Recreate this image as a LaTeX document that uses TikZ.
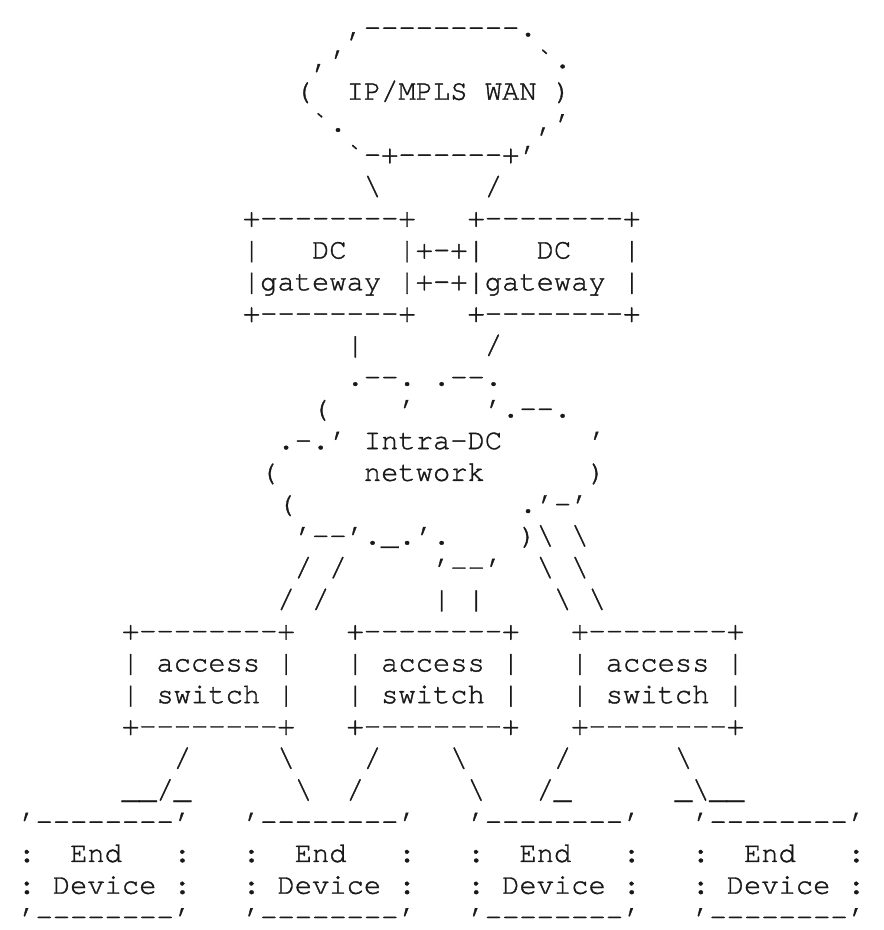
\documentclass[tikz,border=0pt]{standalone}
\usepackage{fontspec}
\setmonofont{TeX Gyre Cursor}[FakeBold=1.2]
\usepackage{tikz}
\usetikzlibrary{positioning}
% one row of the figure: name, row, column, text
\newcommand{\arow}[4]{\node[asc] (#1) at ({17.9+17.28*#3},{36.2+31.76*(#2-1)}) {#4};}
\newcommand{\bs}{\textbackslash}

\begin{document}
\begin{tikzpicture}[x=0.5pt,y=-0.5pt,
    asc/.style={font=\ttfamily\fontsize{14.4}{17}\selectfont, anchor=base west, inner sep=0pt, text=black!90}]
  \fill[white] (0,0) rectangle (883,930);
  \useasboundingbox (0,0) rectangle (883,930);
  % WAN cloud
  \arow{wantop}{1}{19}{,---------.}
  \arow{wanup}{2}{17}{,’~~~~~~~~~~~`.}
  \arow{wan}{3}{16}{(~~IP/MPLS~WAN~)}
  \arow{wanlow}{4}{17}{`.~~~~~~~~~~~,’}
  \arow{wanbase}{5}{19}{`-+------+’}
  \arow{wanlinks}{6}{20}{\bs~~~~~~/}
  % DC gateways
  \arow{gwtop}{7}{13}{+--------+~~~+--------+}
  \arow{gwdc}{8}{13}{|~~~DC~~~|+-+|~~~DC~~~|}
  \arow{gwname}{9}{13}{|gateway~|+-+|gateway~|}
  \arow{gwbot}{10}{13}{+--------+~~~+--------+}
  \arow{gwlinks}{11}{19}{|~~~~~~~/}
  % Intra-DC cloud
  \arow{dctop}{12}{19}{.--.~.--.}
  \arow{dcup}{13}{17}{(~~~~’~~~~’.--.}
  \arow{dc}{14}{15}{.-.’~Intra-DC~~~~~’}
  \arow{dcnet}{15}{14}{(~~~~~network~~~~~~)}
  \arow{dclow}{16}{15}{(~~~~~~~~~~~~~.’-’}
  \arow{dcbase}{17}{16}{’--’.\_.’.~~~~)\bs~\bs}
  \arow{dclinks}{18}{16}{/~/~~~~~’--’~~\bs~\bs}
  \arow{dcpipes}{19}{15}{/~/~~~~~~|~|~~~~\bs~\bs}
  % access switches
  \arow{swtop}{20}{6}{+--------+~~~+--------+~~~+--------+}
  \arow{swacc}{21}{6}{|~access~|~~~|~access~|~~~|~access~|}
  \arow{swname}{22}{6}{|~switch~|~~~|~switch~|~~~|~switch~|}
  \arow{swbot}{23}{6}{+--------+~~~+--------+~~~+--------+}
  \arow{swlinks}{24}{9}{/~~~~~\bs~~~~/~~~~\bs~~~~~/~~~~~~\bs}
  \arow{edlinks}{25}{6}{\_\_/\_~~~~~~\bs~~/~~~~~~\bs~~~/\_~~~~~~\_\bs\_\_}
  % end devices
  \arow{edtop}{26}{0}{’--------’~~~’--------’~~~’--------’~~~’--------’}
  \arow{edend}{27}{0}{:~~End~~~:~~~:~~End~~~:~~~:~~End~~~:~~~:~~End~~~:}
  \arow{eddev}{28}{0}{:~Device~:~~~:~Device~:~~~:~Device~:~~~:~Device~:}
  \arow{edbot}{29}{0}{’--------’~~~’--------’~~~’--------’~~~’--------’}
\end{tikzpicture}
\end{document}
